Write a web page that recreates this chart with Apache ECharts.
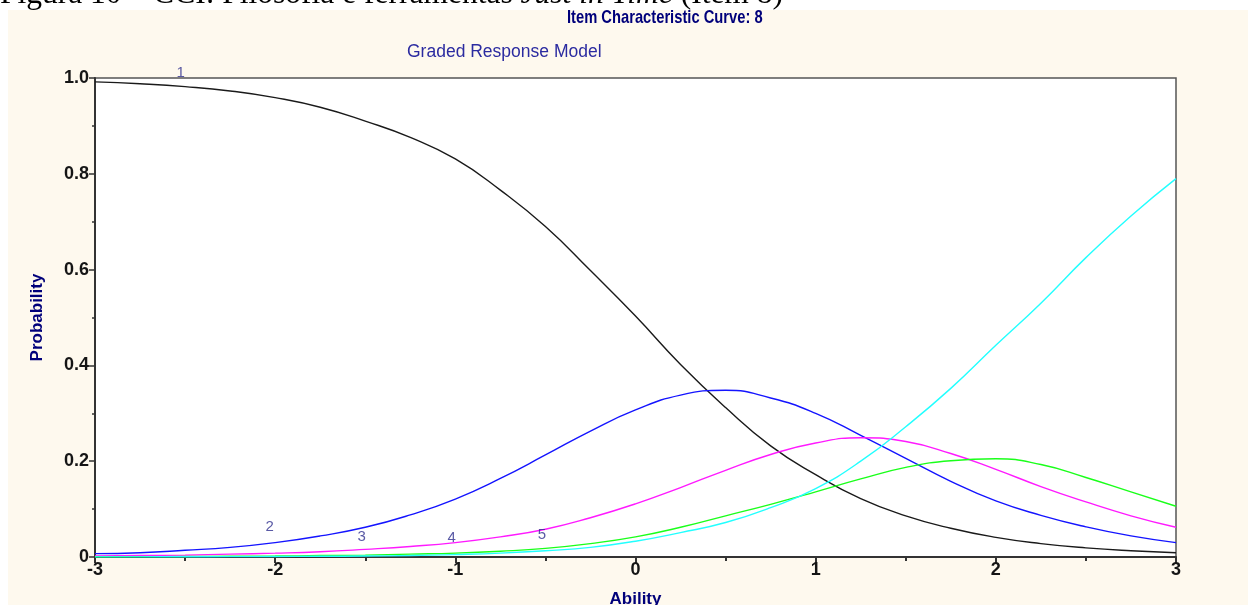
<!DOCTYPE html>
<html>
<head>
<meta charset="utf-8">
<script src="https://cdn.jsdelivr.net/npm/echarts@6/dist/echarts.min.js"></script>
<style>html,body{margin:0;padding:0;background:#fff;}#c{width:1248px;height:605px;}</style>
</head>
<body>
<div id="c"></div>
<script>
// Ability (theta) sample points
const thetas = [-3,-2.75,-2.5,-2.25,-2,-1.75,-1.5,-1.25,-1,-0.75,-0.5,-0.25,0,0.25,0.5,0.75,1,1.25,1.5,1.75,2,2.25,2.5,2.75,3];
// Category probability curves
const cat1 = [0.992,0.988,0.982,0.973,0.959,0.939,0.910,0.876,0.831,0.766,0.690,0.598,0.503,0.402,0.312,0.232,0.172,0.122,0.086,0.060,0.041,0.028,0.019,0.013,0.009];
const cat2 = [0.007,0.009,0.014,0.020,0.030,0.044,0.062,0.088,0.121,0.164,0.213,0.263,0.307,0.338,0.348,0.332,0.300,0.254,0.206,0.158,0.117,0.087,0.063,0.044,0.030];
const cat3 = [0.002,0.003,0.004,0.006,0.008,0.011,0.016,0.022,0.030,0.042,0.058,0.082,0.111,0.145,0.181,0.214,0.238,0.249,0.241,0.216,0.183,0.147,0.115,0.086,0.062];
const cat4 = [0.0005,0.0008,0.001,0.0015,0.002,0.003,0.004,0.006,0.008,0.012,0.018,0.028,0.042,0.062,0.086,0.110,0.136,0.163,0.187,0.201,0.205,0.193,0.166,0.136,0.106];
const cat5 = [0.0002,0.0003,0.0005,0.0007,0.001,0.0015,0.002,0.003,0.005,0.008,0.013,0.020,0.033,0.051,0.072,0.103,0.143,0.200,0.272,0.352,0.442,0.530,0.625,0.712,0.790];
// Curve number labels: [theta, probability, text]
const curveLabels = [[-2.525,1.010,'1'],[-2.03,0.063,'2'],[-1.52,0.042,'3'],[-1.02,0.040,'4'],[-0.52,0.046,'5']];
const xTicks = [-3,-2,-1,0,1,2,3];
const yTicks = [0,0.2,0.4,0.6,0.8,1.0];

const chart = echarts.init(document.getElementById('c'));
const pair = arr => thetas.map((t,i)=>[t,arr[i]]);
const lineS = (name, arr, color) => ({
  name, type:'line', data: pair(arr), smooth: true, showSymbol:false, symbol:'none',
  lineStyle:{color, width:1.4}, itemStyle:{color}, clip:true, animation:false
});
const SANS = '"Liberation Sans", Arial, sans-serif';
const SERIF = '"Liberation Serif", "Times New Roman", serif';
chart.setOption({
  backgroundColor:'#ffffff',
  animation:false,
  graphic:[
    {type:'text', x:0, y:10, z:-20, style:{
      text:'{n|Figura 10 – CCI: Filosofia e ferramentas }{i|Just in Time}{n| (Item 8)}',
      verticalAlign:'bottom',
      rich:{
        n:{fontFamily:SERIF, fontSize:31.5, color:'#000', lineHeight:31},
        i:{fontFamily:SERIF, fontSize:31.5, fontStyle:'italic', color:'#000', lineHeight:31}
      }}},
    {type:'rect', z:-10, shape:{x:8,y:10,width:1240,height:595}, style:{fill:'#fef9ee'}},
    {type:'text', x:567, y:18, scaleX:0.775, z:5, style:{text:'Item Characteristic Curve: 8', font:'bold 19px "Liberation Sans", Arial, sans-serif', fill:'#00007a', verticalAlign:'middle'}},
    {type:'text', x:407, y:52, z:5, style:{text:'Graded Response Model', font:'17.5px "Liberation Sans", Arial, sans-serif', fill:'#2b2ba0', verticalAlign:'middle'}}
  ],
  grid:{left:95, right:72, top:78, bottom:48, outerBoundsMode:'none', show:true, backgroundColor:'#ffffff', borderColor:'#555555', borderWidth:1.5},
  xAxis:{
    type:'value', min:xTicks[0], max:xTicks[xTicks.length-1], interval:1,
    name:'Ability', nameLocation:'middle', nameGap:34,
    nameTextStyle:{fontFamily:SANS, fontSize:17, fontWeight:'bold', color:'#00007a'},
    axisLine:{show:true, onZero:false, lineStyle:{color:'#333', width:2}},
    axisTick:{show:true, inside:false, length:6, lineStyle:{color:'#333', width:2}},
    minorTick:{show:true, splitNumber:2, length:4, lineStyle:{color:'#333', width:2}},
    splitLine:{show:false},
    axisLabel:{fontFamily:SANS, fontSize:18, fontWeight:'bold', color:'#151515', margin:4}
  },
  yAxis:{
    type:'value', min:yTicks[0], max:yTicks[yTicks.length-1], interval:0.2,
    name:'Probability', nameLocation:'middle', nameGap:49, nameRotate:90,
    nameTextStyle:{fontFamily:SANS, fontSize:17, fontWeight:'bold', color:'#00007a'},
    axisLine:{show:true, onZero:false, lineStyle:{color:'#333', width:2}},
    axisTick:{show:true, length:6, lineStyle:{color:'#333', width:1.5}},
    minorTick:{show:true, splitNumber:2, length:3, lineStyle:{color:'#333', width:1.5}},
    splitLine:{show:false},
    axisLabel:{fontFamily:SANS, fontSize:18, fontWeight:'bold', color:'#151515', margin:6,
      formatter: v => v === 0 ? '0' : v.toFixed(1)}
  },
  series:[
    lineS('1', cat1, '#1a1a1a'),
    lineS('2', cat2, '#1414ff'),
    lineS('3', cat3, '#ff1aff'),
    lineS('4', cat4, '#1aff1a'),
    lineS('5', cat5, '#22ffff'),
    {type:'scatter', data:curveLabels, symbolSize:0, clip:false, silent:true, z:10,
      label:{show:true, position:'inside', formatter: p => p.data[2],
        fontFamily:SANS, fontSize:15, color:'#30308f'}}
  ]
});
</script>
</body>
</html>
